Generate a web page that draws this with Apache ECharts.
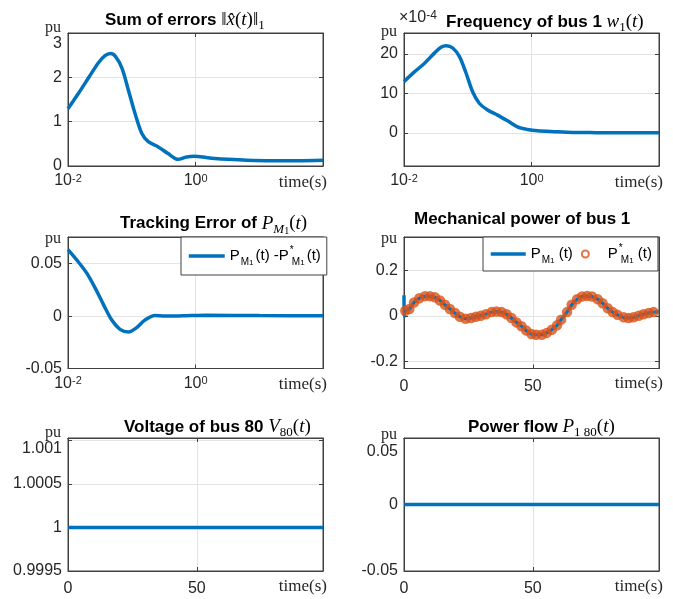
<!DOCTYPE html>
<html>
<head>
<meta charset="UTF-8">
<script src="https://cdn.jsdelivr.net/npm/echarts@6.0.0/dist/echarts.min.js"></script>
</head>
<body style="margin:0;padding:0;background:#fff;">
<div id="main" style="width:673px;height:599px;"></div>
<script>
// sum of errors ||x^(t)||_1 (pu), log time axis
var errT = [0.01, 0.0147, 0.021, 0.030, 0.038, 0.046, 0.055, 0.070, 0.088, 0.112, 0.143, 0.181, 0.26, 0.37, 0.53, 0.72, 0.97, 1.47, 2.0, 3.2, 6.3, 16, 40, 99];
var errV = [1.29, 1.645, 1.99, 2.33, 2.49, 2.54, 2.48, 2.21, 1.72, 1.19, 0.74, 0.55, 0.43, 0.28, 0.15, 0.205, 0.22, 0.19, 0.17, 0.15, 0.13, 0.12, 0.12, 0.13];
// frequency of bus 1 (x 1e-4 pu)
var freqT = [0.01, 0.0147, 0.021, 0.030, 0.038, 0.046, 0.058, 0.074, 0.094, 0.119, 0.151, 0.204, 0.292, 0.419, 0.60, 0.86, 1.23, 2.5, 4.8, 10, 32, 99];
var freqV = [12.98, 15.5, 17.65, 20.2, 21.7, 22.06, 21.5, 19.3, 15.1, 10.4, 7.5, 5.8, 4.5, 3.05, 1.53, 0.86, 0.51, 0.3, 0.1, 0.05, 0.0, 0.0];
// tracking error P_M1 - P*_M1
var trkT = [0.01, 0.0138, 0.0198, 0.0267, 0.036, 0.0485, 0.0653, 0.0883, 0.119, 0.160, 0.230, 0.329, 0.63, 1.48, 10, 99];
var trkV = [0.0635, 0.0534, 0.0408, 0.0267, 0.011, -0.0038, -0.0126, -0.0151, -0.011, -0.0038, 0.0006, 0, 0.0003, 0.0008, 0.0005, 0.0003];
// mechanical power of bus 1: start transient of P_M1, then samples shared with P*_M1
var spikeT = [0, 0.05, 0.25];
var spikeV = [0.09, -0.004, 0.02];
var pmT = [0.5, 2.07, 3.88, 5.94, 8.14, 10.08, 12.0, 13.95, 15.9, 17.8, 19.8, 21.7, 23.9, 26.0, 27.9, 29.8, 31.8, 34.0, 35.9, 37.9, 39.8, 41.7, 43.7, 45.6, 47.5, 49.5,
    51.3, 53.5, 55.4, 57.4, 59.4, 61.0, 63.3, 65.1, 67.2, 69.1, 71.1, 73.0, 75.2, 77.1, 79.1, 81.0, 82.9, 85.3, 87.2, 89.1, 91.1, 93.0, 95.0, 96.9, 99.1];
var pmV = [0.022, 0.030, 0.058, 0.077, 0.086, 0.086, 0.081, 0.067, 0.048, 0.030, 0.012, -0.004, -0.013, -0.010, -0.004, 0.0, 0.007, 0.016, 0.019, 0.016, 0.007, -0.010, -0.029, -0.046, -0.065, -0.080,
    -0.083, -0.083, -0.075, -0.061, -0.042, -0.017, 0.016, 0.048, 0.072, 0.084, 0.087, 0.084, 0.072, 0.055, 0.033, 0.016, 0.004, -0.007, -0.010, -0.007, 0.0, 0.007, 0.012, 0.016, 0.019];
// voltage of bus 80 and power flow 1-80
var voltT = [0, 25, 50, 75, 99];
var voltV = [1, 1, 1, 1, 1];
var flowT = [0, 25, 50, 75, 99];
var flowV = [0, 0, 0, 0, 0];
// tick values
var errTicks = [0, 1, 2, 3];
var freqTicks = [0, 10, 20];
var trkTicks = [-0.05, 0, 0.05];
var pmTicks = [-0.2, 0, 0.2];
var voltTicks = [0.9995, 1, 1.0005, 1.001];
var flowTicks = [-0.05, 0, 0.05];
var timeTicks = [0, 50];

var SANS = '"Liberation Sans", Arial, sans-serif';
var SERIF = '"Liberation Serif", "Times New Roman", serif';
var BLUE = '#0072BD', ORANGE = '#D95319', INK = '#262626', FRAME = '#404040';

var chart = echarts.init(document.getElementById('main'));

function pairs(t, v) {
    return t.map(function (x, i) { return [x, v[i]]; });
}

var grids = [
    {left: 68, top: 33, width: 255, height: 133},
    {left: 404, top: 33, width: 255, height: 133},
    {left: 68, top: 237, width: 255, height: 131.5},
    {left: 404, top: 237, width: 255, height: 131.5},
    {left: 68, top: 438, width: 255, height: 133},
    {left: 404, top: 438, width: 255, height: 133}
].map(function (g) {
    return Object.assign({show: true, borderColor: FRAME, borderWidth: 1, backgroundColor: '#fff', containLabel: false}, g);
});

var supRich = {
    b: {fontFamily: SANS, fontSize: 16, color: INK, lineHeight: 16, verticalAlign: 'bottom', padding: [6, 0, 0, 0]},
    s: {fontFamily: SANS, fontSize: 11, color: INK, lineHeight: 11, verticalAlign: 'top'}
};

function baseAxis() {
    return {
        axisLine: {show: true, onZero: false, lineStyle: {color: FRAME, width: 1}},
        axisTick: {show: true, inside: true, length: 4, lineStyle: {color: FRAME}},
        splitLine: {show: true, lineStyle: {color: '#e3e3e3', width: 1}},
        axisLabel: {color: INK, fontSize: 16, fontFamily: SANS}
    };
}

function logX(i) {
    var a = baseAxis();
    return Object.assign(a, {
        gridIndex: i, type: 'log', logBase: 10, min: 0.01, max: 99, interval: 2,
        name: 'time(s)', nameLocation: 'end', nameGap: 4,
        nameTextStyle: {fontFamily: SERIF, fontSize: 17, color: INK, align: 'right', verticalAlign: 'top', padding: [8, 0, 0, 0]},
        axisLabel: Object.assign(a.axisLabel, {
            margin: 7, showMaxLabel: false, rich: supRich,
            formatter: function (v) {
                return '{b|10}{s|' + Math.round(Math.log10(v)) + '}';
            }
        })
    });
}

function linX(i) {
    var a = baseAxis();
    a.axisTick.customValues = timeTicks;
    return Object.assign(a, {
        gridIndex: i, type: 'value', min: 0, max: 99,
        name: 'time(s)', nameLocation: 'end', nameGap: 4,
        nameTextStyle: {fontFamily: SERIF, fontSize: 17, color: INK, align: 'right', verticalAlign: 'top', padding: [7, 0, 0, 0]},
        axisLabel: Object.assign(a.axisLabel, {margin: 10, customValues: timeTicks})
    });
}

function yAx(i, min, max, ticks, gap, topShift) {
    var a = baseAxis();
    a.axisTick.customValues = ticks;
    var top = ticks[ticks.length - 1];
    return Object.assign(a, {
        gridIndex: i, type: 'value', min: min, max: max,
        name: 'pu', nameLocation: 'end', nameGap: gap,
        nameTextStyle: {fontFamily: SERIF, fontSize: 16, color: INK, align: 'right', verticalAlign: 'middle', padding: [0, 7, 0, 0]},
        axisLabel: Object.assign(a.axisLabel, {
            margin: 6, customValues: ticks,
            rich: {t: {fontFamily: SANS, fontSize: 16, color: INK, padding: [topShift * 2, 0, 0, 0]}},
            formatter: function (v) {
                var s = String(parseFloat(v.toFixed(6)));
                return (topShift && Math.abs(v - top) < 1e-9) ? '{t|' + s + '}' : s;
            }
        })
    });
}

// mirrored box axes: ticks on top and right edges, nothing else
function mirror(ax, pos) {
    return Object.assign({}, ax, {
        position: pos, name: '', splitLine: {show: false},
        axisLabel: {show: false},
        axisTick: Object.assign({}, ax.axisTick)
    });
}

var titleRich = {
    b: {fontFamily: SANS, fontWeight: 'bold', fontSize: 17, color: '#000'},
    mi: {fontFamily: SERIF, fontWeight: 'normal', fontStyle: 'italic', fontSize: 19, color: '#000'},
    mu: {fontFamily: SERIF, fontWeight: 'normal', fontSize: 19, color: '#000'},
    ms: {fontFamily: SERIF, fontWeight: 'normal', fontSize: 13, color: '#000', verticalAlign: 'bottom', padding: [11, 0, 0, 0]},
    msi: {fontFamily: SERIF, fontWeight: 'normal', fontStyle: 'italic', fontSize: 13, color: '#000', verticalAlign: 'bottom', padding: [11, 0, 0, 0]},
    mss: {fontFamily: SERIF, fontWeight: 'normal', fontSize: 10, color: '#000', verticalAlign: 'bottom', padding: [15, 0, 0, 0]},
    x: {fontFamily: SANS, fontWeight: 'normal', fontSize: 16, color: INK, verticalAlign: 'bottom', lineHeight: 16},
    sup: {fontFamily: SANS, fontWeight: 'normal', fontSize: 12, color: INK, verticalAlign: 'top', lineHeight: 12, padding: [0, 0, 8, 0]}
};

function ttl(left, cy, text) {
    return {left: left, top: cy - 12, padding: 0, textAlign: 'left', text: text, textStyle: {fontWeight: 'normal', rich: titleRich}};
}

var legRich = {
    p: {fontFamily: SANS, fontSize: 15, color: '#000'},
    q: {fontFamily: SANS, fontSize: 15, color: '#000', padding: [0, 0, 0, 2]},
    s: {fontFamily: SANS, fontSize: 10, color: '#000', verticalAlign: 'bottom', padding: [9, 0, 0, 1]},
    ss: {fontFamily: SANS, fontSize: 8, color: '#000', verticalAlign: 'bottom', padding: [14, 0, 0, 0]},
    st: {fontFamily: SANS, fontSize: 10, color: '#000', verticalAlign: 'top', padding: [0, 0, 10, 1], width: 1}
};

var noDot = {color: 'rgba(0,0,0,0)', borderWidth: 0};
var thick = {width: 3.5};

var xMain = [logX(0), logX(1), logX(2), linX(3), linX(4), linX(5)];
var yMain = [
    yAx(0, 0, 3, errTicks, 4, 11),
    yAx(1, -8.4, 25.3, freqTicks, 1, 0),
    yAx(2, -0.05, 0.0755, trkTicks, -2, 0),
    yAx(3, -0.231, 0.345, pmTicks, -2, 0),
    yAx(4, 0.9995, 1.00103, voltTicks, 3, 8),
    yAx(5, -0.05, 0.05, flowTicks, 3, 14)
];

var option = {
    animation: false,
    backgroundColor: '#fff',
    title: [
        ttl(105, 20, '{b|Sum of errors }{mu|‖}{mi|x̂}{mu|(}{mi|t}{mu|)‖}{ms|1}'),
        ttl(446, 22, '{b|Frequency of bus 1 }{mi|w}{ms|1}{mu|(}{mi|t}{mu|)}'),
        ttl(399, 22, '{x|×10}{sup|-4}'),
        ttl(120, 223, '{b|Tracking Error of }{mi|P}{msi|M}{mss|1}{mu|(}{mi|t}{mu|)}'),
        ttl(414, 223, '{b|Mechanical power of bus 1}'),
        ttl(124, 427, '{b|Voltage of bus 80 }{mi|V}{ms|80}{mu|(}{mi|t}{mu|)}'),
        ttl(468, 427, '{b|Power flow }{mi|P}{ms|1 80}{mu|(}{mi|t}{mu|)}')
    ],
    legend: [
        {
            data: [{name: 'trk', itemStyle: noDot}], left: 181, top: 237, orient: 'horizontal', selectedMode: false,
            padding: [8, 6, 8, 6], itemWidth: 36, itemGap: 4, backgroundColor: '#fff',
            borderColor: FRAME, borderWidth: 1, borderRadius: 0, lineStyle: thick,
            textStyle: {rich: legRich},
            formatter: function () { return '{p|P}{s|M}{ss|1}{q|(t) -P}{st|*}{s|M}{ss|1}{q|(t)}'; }
        },
        {
            data: [{name: 'pm', itemStyle: noDot}, 'pms'], left: 483, top: 237, orient: 'horizontal', selectedMode: false,
            padding: [6, 6, 6, 6], itemWidth: 35, itemHeight: 7, itemGap: 8, backgroundColor: '#fff',
            borderColor: FRAME, borderWidth: 1, borderRadius: 0, lineStyle: thick,
            textStyle: {rich: legRich},
            formatter: function (n) {
                return n === 'pm' ? '{p|P}{s|M}{ss|1}{p| (t)}' : '{p|P}{st|*}{s|M}{ss|1}{p| (t)}';
            }
        }
    ],
    grid: grids,
    xAxis: xMain.concat(xMain.map(function (a) { return mirror(a, 'top'); })),
    yAxis: yMain.concat(yMain.map(function (a) { return mirror(a, 'right'); })),
    series: [
        {type: 'line', xAxisIndex: 0, yAxisIndex: 0, data: pairs(errT, errV), smooth: 0.3, symbol: 'none', lineStyle: {color: BLUE, width: 3.5}},
        {type: 'line', xAxisIndex: 1, yAxisIndex: 1, data: pairs(freqT, freqV), smooth: 0.3, symbol: 'none', lineStyle: {color: BLUE, width: 3.5}},
        {type: 'line', name: 'trk', xAxisIndex: 2, yAxisIndex: 2, data: pairs(trkT, trkV), smooth: 0.3, symbol: 'none', itemStyle: {color: BLUE}, lineStyle: {color: BLUE, width: 3.5}},
        {type: 'line', name: 'pm', xAxisIndex: 3, yAxisIndex: 3, data: pairs(spikeT, spikeV).concat(pairs(pmT, pmV)), smooth: 0.3, symbol: 'none', itemStyle: {color: BLUE}, lineStyle: {color: BLUE, width: 3.5}, z: 2},
        {type: 'scatter', name: 'pms', xAxisIndex: 3, yAxisIndex: 3, data: pairs(pmT, pmV), symbol: 'circle', symbolSize: 7,
            itemStyle: {color: 'rgba(0,0,0,0)', borderColor: ORANGE, borderWidth: 3.5}, z: 3},
        {type: 'line', xAxisIndex: 4, yAxisIndex: 4, data: pairs(voltT, voltV), symbol: 'none', lineStyle: {color: BLUE, width: 3.5}},
        {type: 'line', xAxisIndex: 5, yAxisIndex: 5, data: pairs(flowT, flowV), symbol: 'none', lineStyle: {color: BLUE, width: 3.5}}
    ]
};
chart.setOption(option);
</script>
</body>
</html>
